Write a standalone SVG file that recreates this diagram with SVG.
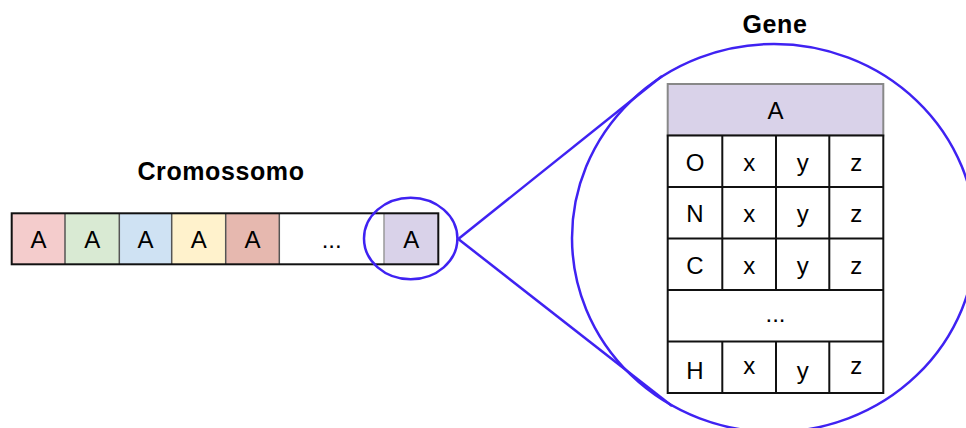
<svg xmlns="http://www.w3.org/2000/svg" width="966" height="428" viewBox="0 0 966 428">
  <style>
    .title { font-family: "Liberation Sans", Arial, sans-serif; font-weight: bold; font-size: 25px; letter-spacing: 0.6px; fill: #000; text-anchor: middle; }
    .lbl { font-family: "Liberation Sans", Arial, sans-serif; font-size: 24px; fill: #000; text-anchor: middle; }
    .sep { stroke: #555; stroke-width: 1.5; }
    .grid { stroke: #111; stroke-width: 2; fill: none; }
    .lens { fill: none; stroke: #3f22f2; stroke-width: 2.5; }
  </style>

  <rect width="966" height="428" fill="#fff"/>

  <!-- chromosome strip -->
  <g id="cromossomo">
    <text class="title" x="221" y="180">Cromossomo</text>
    <rect x="11.7" y="213.3" width="53.3" height="51" fill="#f4cccc"/>
    <rect x="65" y="213.3" width="54.3" height="51" fill="#d9ead3"/>
    <rect x="119.3" y="213.3" width="52.4" height="51" fill="#cfe2f3"/>
    <rect x="171.7" y="213.3" width="54" height="51" fill="#fff2cc"/>
    <rect x="225.7" y="213.3" width="53.6" height="51" fill="#e6b8af"/>
    <rect x="279.3" y="213.3" width="104.7" height="51" fill="#ffffff"/>
    <rect x="384" y="213.3" width="54.3" height="51" fill="#d9d2e9"/>
    <line class="sep" x1="65" y1="213.3" x2="65" y2="264.3" stroke="#222"/>
    <line class="sep" x1="119.3" y1="213.3" x2="119.3" y2="264.3"/>
    <line class="sep" x1="171.7" y1="213.3" x2="171.7" y2="264.3"/>
    <line class="sep" x1="225.7" y1="213.3" x2="225.7" y2="264.3"/>
    <line class="sep" x1="279.3" y1="213.3" x2="279.3" y2="264.3" stroke="#333"/>
    <line x1="384" y1="213.3" x2="384" y2="264.3" stroke="#999" stroke-width="1.5"/>
    <rect x="11.7" y="213.3" width="426.6" height="51" fill="none" stroke="#111" stroke-width="2"/>
    <text class="lbl" x="38.4" y="247.5">A</text>
    <text class="lbl" x="92.2" y="247.5">A</text>
    <text class="lbl" x="145.5" y="247.5">A</text>
    <text class="lbl" x="198.7" y="247.5">A</text>
    <text class="lbl" x="252.5" y="247.5">A</text>
    <text class="lbl" x="331.7" y="247.5">...</text>
    <text class="lbl" x="411.2" y="247.5">A</text>
  </g>

  <!-- magnifier: small lens, zoom lines, big lens -->
  <g id="connectors">
    <ellipse class="lens" cx="410.7" cy="238.5" rx="46.7" ry="40.8"/>
    <line class="lens" x1="458.3" y1="239" x2="662" y2="76"/>
    <line class="lens" x1="458.3" y1="239" x2="672" y2="406"/>
    <ellipse class="lens" cx="774" cy="238" rx="202" ry="194"/>
  </g>

  <!-- gene table -->
  <g id="gene">
    <text class="title" x="775" y="33">Gene</text>
    <rect x="667.7" y="84" width="215.6" height="51.5" fill="#d9d2e9" stroke="#888" stroke-width="2"/>
    <text class="lbl" x="775.5" y="119">A</text>
    <rect x="667.7" y="135.5" width="215.6" height="257.5" fill="#fff"/>
    <g class="grid">
      <rect x="667.7" y="135.5" width="215.6" height="257.5"/>
      <line x1="667.7" y1="187" x2="883.3" y2="187"/>
      <line x1="667.7" y1="238.5" x2="883.3" y2="238.5"/>
      <line x1="667.7" y1="290" x2="883.3" y2="290"/>
      <line x1="667.7" y1="341.5" x2="883.3" y2="341.5"/>
      <line x1="722.3" y1="135.5" x2="722.3" y2="290"/>
      <line x1="776" y1="135.5" x2="776" y2="290"/>
      <line x1="829.3" y1="135.5" x2="829.3" y2="290"/>
      <line x1="722.3" y1="341.5" x2="722.3" y2="393"/>
      <line x1="776" y1="341.5" x2="776" y2="393"/>
      <line x1="829.3" y1="341.5" x2="829.3" y2="393"/>
    </g>
    <text class="lbl" x="695" y="170.5">O</text>
    <text class="lbl" x="749.2" y="170.5">x</text>
    <text class="lbl" x="802.7" y="170.5">y</text>
    <text class="lbl" x="856.3" y="170.5">z</text>
    <text class="lbl" x="695" y="222">N</text>
    <text class="lbl" x="749.2" y="222">x</text>
    <text class="lbl" x="802.7" y="222">y</text>
    <text class="lbl" x="856.3" y="222">z</text>
    <text class="lbl" x="695" y="273.5">C</text>
    <text class="lbl" x="749.2" y="273.5">x</text>
    <text class="lbl" x="802.7" y="273.5">y</text>
    <text class="lbl" x="856.3" y="273.5">z</text>
    <text class="lbl" x="775.5" y="322">...</text>
    <text class="lbl" x="695" y="378.5">H</text>
    <text class="lbl" x="749.2" y="374">x</text>
    <text class="lbl" x="802.7" y="378.5">y</text>
    <text class="lbl" x="856.3" y="374">z</text>
  </g>
</svg>
